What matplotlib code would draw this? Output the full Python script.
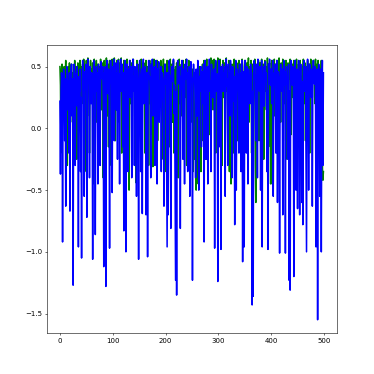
import matplotlib
matplotlib.use("Agg")
import matplotlib.pyplot as plt

blue_vals = [
    0.22, -0.37, 0.30, 0.45, 0.38, -0.92, 0.35, 0.48, 0.42, -0.10,
    0.40, -0.63, 0.28, 0.50, 0.44, 0.15, 0.38, -0.20, 0.45, -0.67,
    0.30, 0.47, 0.52, 0.10, 0.40, -1.27, 0.35, 0.52, 0.46, -0.30,
    0.44, 0.36, 0.50, 0.18, 0.42, -0.96, 0.40, 0.30, 0.48, -0.35,
    0.25, -1.05, 0.38, 0.55, 0.47, 0.30, -0.55, 0.46, 0.35, 0.52,
    0.28, -0.72, 0.40, 0.56, 0.45, 0.35, -0.40, 0.50, 0.42, 0.20,
    0.45, 0.36, -1.06, 0.38, 0.55, 0.50, 0.25, -0.86, 0.42, 0.50,
    0.30, 0.45, -0.45, 0.52, 0.40, 0.48, -0.30, 0.34, 0.54, 0.44,
    0.40, 0.50, 0.22, -1.12, 0.45, 0.38, 0.50, -1.28, 0.36, 0.55,
    0.42, 0.28, 0.48, 0.35, -0.97, 0.42, 0.55, 0.46, 0.35, -0.52,
    0.50, 0.40, 0.56, -0.10, 0.40, 0.47, 0.53, 0.15, 0.45, -0.25,
    0.55, 0.38, 0.44, -0.45, 0.48, 0.56, 0.30, 0.38, 0.52, -0.15,
    0.45, -0.83, 0.30, 0.55, 0.40, -1.00, 0.40, 0.52, 0.45, -0.35,
    0.48, 0.36, 0.55, 0.25, 0.35, 0.50, -0.40, 0.42, 0.56, 0.30,
    0.42, -0.30, 0.50, 0.38, 0.44, -0.55, 0.52, 0.40, 0.30, -1.06,
    0.45, 0.55, 0.34, -0.35, 0.40, 0.48, -0.69, 0.48, 0.56, 0.20,
    0.35, 0.44, 0.50, -0.70, 0.30, 0.45, -1.04, 0.38, 0.55, 0.40,
    0.42, 0.28, -0.40, 0.52, 0.36, 0.56, 0.10, 0.40, 0.48, 0.50,
    -0.30, 0.35, 0.55, 0.42, -0.45, 0.48, 0.38, 0.54, 0.05, 0.38,
    0.30, 0.50, -0.35, 0.34, 0.45, 0.40, 0.20, -0.63, 0.40, 0.52,
    0.36, 0.45, -0.30, -0.96, 0.45, -0.70, 0.30, 0.55, 0.44, 0.42,
    -0.81, 0.25, 0.50, 0.38, 0.40, 0.56, 0.12, 0.35, -0.50, -1.23,
    0.30, -1.35, 0.45, 0.55, 0.36, 0.38, 0.48, 0.50, -0.81, 0.42,
    0.32, 0.55, 0.40, -0.25, 0.48, 0.44, -0.45, 0.52, 0.40, 0.46,
    0.56, 0.25, -0.35, 0.45, 0.38, 0.50, -0.55, 0.35, 0.54, 0.42,
    0.40, -1.23, 0.30, 0.52, 0.44, 0.45, 0.20, -0.40, 0.48, 0.36,
    0.10, 0.55, 0.40, -0.50, 0.42, 0.30, 0.48, 0.50, -0.15, 0.38,
    0.46, 0.20, 0.52, -0.92, 0.40, 0.55, 0.35, -0.25, 0.45, 0.50,
    -0.45, 0.50, 0.38, 0.56, 0.30, 0.38, -0.35, 0.52, 0.44, 0.45,
    0.25, 0.40, 0.48, -0.97, 0.48, 0.55, 0.30, 0.35, 0.44, -1.24,
    0.42, 0.55, 0.36, -0.15, 0.50, -0.98, 0.38, 0.45, 0.52, 0.30,
    0.45, 0.40, 0.50, -0.55, 0.48, 0.56, 0.34, 0.40, -0.30, 0.52,
    0.40, 0.45, 0.10, 0.55, 0.44, 0.38, -0.40, 0.50, 0.46, 0.22,
    0.42, -0.78, 0.35, 0.55, -0.50, 0.25, 0.48, 0.40, 0.44, -0.20,
    0.52, 0.36, 0.45, -0.35, 0.30, 0.55, -1.08, 0.38, 0.46, -0.96,
    0.45, 0.55, 0.40, -0.20, 0.50, 0.44, -0.45, 0.48, 0.38, 0.40,
    0.20, 0.52, 0.46, 0.45, -1.43, 0.30, -1.36, 0.50, 0.55, 0.42,
    0.40, -0.10, 0.52, 0.44, -0.40, 0.56, 0.38, 0.45, 0.30, 0.50,
    -0.50, 0.30, 0.55, -0.96, 0.42, 0.40, 0.50, 0.18, 0.38, 0.54,
    0.44, 0.45, -0.35, 0.30, -0.98, 0.52, 0.40, 0.56, 0.36, 0.35,
    0.48, 0.20, 0.44, 0.55, -0.55, 0.30, 0.45, 0.40, 0.52, -0.20,
    0.38, 0.55, -0.60, 0.46, 0.45, 0.30, -1.01, 0.40, 0.52, 0.44,
    0.30, 0.48, -0.70, 0.40, 0.55, 0.35, 0.46, -1.01, 0.42, 0.50,
    0.36, 0.38, -0.25, 0.52, -1.23, 0.30, -1.31, 0.45, 0.55, 0.48,
    0.35, 0.50, 0.40, -1.20, 0.42, 0.55, 0.38, -0.50, 0.48, 0.44,
    -0.65, 0.45, 0.55, 0.40, -0.70, 0.40, 0.52, 0.36, -0.60, 0.38,
    -0.78, 0.45, 0.55, 0.44, 0.30, 0.50, -0.20, -1.00, 0.42, 0.56,
    0.38, -0.50, 0.40, 0.52, 0.46, 0.25, 0.48, 0.40, -0.63, 0.45,
    0.55, 0.42, 0.36, 0.50, 0.30, -0.96, 0.42, 0.48, -1.55, 0.35,
    0.52, 0.46, -0.55, 0.40, 0.48, -1.00, 0.30, 0.55, -0.30, 0.45,
]

green_vals = [
    0.50, 0.35, -0.20, 0.48, 0.52, 0.10, 0.45, 0.30, 0.50, -0.05,
    0.42, 0.55, 0.20, 0.47, -0.30, 0.38, 0.50, 0.25, 0.53, 0.40,
    0.05, 0.48, 0.52, 0.30, 0.45, -0.15, 0.50, 0.36, 0.55, 0.20,
    0.44, 0.50, -0.25, 0.40, 0.53, 0.15, 0.47, 0.30, 0.55, 0.45,
    -0.10, 0.50, 0.35, 0.52, 0.20, 0.56, 0.40, -0.35, 0.48, 0.30,
    0.55, 0.45, 0.10, 0.57, 0.38, 0.50, -0.20, 0.42, 0.55, 0.25,
    0.48, 0.35, 0.53, -0.45, 0.40, 0.56, 0.20, 0.50, 0.30, 0.55,
    0.05, 0.45, 0.52, 0.38, -0.25, 0.50, 0.30, 0.56, 0.42, 0.15,
    0.53, 0.40, -0.40, 0.48, 0.55, 0.25, 0.50, 0.35, 0.57, 0.10,
    0.45, 0.52, -0.15, 0.40, 0.55, 0.30, 0.50, -0.30, 0.47, 0.56,
    0.35, 0.52, 0.20, 0.57, 0.45, -0.10, 0.50, 0.38, 0.55, 0.25,
    0.48, 0.56, 0.05, 0.42, 0.53, 0.30, 0.57, -0.20, 0.45, 0.50,
    0.35, 0.55, 0.15, 0.48, 0.52, 0.40, -0.05, 0.56, 0.30, 0.45,
    0.50, -0.50, 0.38, 0.55, 0.20, 0.47, 0.53, 0.10, 0.45, 0.56,
    0.30, 0.50, -0.25, 0.42, -0.44, 0.35, 0.55, 0.20, 0.48, 0.40,
    0.52, 0.05, 0.45, 0.30, 0.56, -0.15, 0.40, 0.50, 0.25, 0.53,
    0.35, -0.20, 0.48, 0.55, 0.10, 0.42, 0.50, 0.30, -0.30, 0.45,
    0.55, 0.20, 0.40, 0.52, -0.05, 0.35, -0.31, 0.48, 0.56, 0.25,
    0.45, 0.50, 0.15, 0.38, 0.55, -0.10, 0.42, 0.53, 0.30, 0.47,
    0.20, 0.55, 0.35, -0.25, 0.50, 0.40, 0.56, 0.10, 0.45, 0.52,
    0.30, -0.35, 0.48, 0.55, 0.20, 0.42, 0.50, -0.15, 0.38, 0.56,
    0.25, 0.45, 0.52, 0.05, 0.40, 0.55, -0.20, 0.47, 0.35, 0.50,
    0.15, 0.53, 0.42, 0.30, -0.40, 0.48, 0.56, 0.20, 0.45, 0.38,
    0.52, 0.10, 0.40, 0.55, -0.10, 0.35, 0.50, 0.25, 0.47, 0.56,
    -0.30, 0.42, 0.50, 0.30, 0.55, 0.15, -0.20, 0.45, 0.52, 0.35,
    0.05, 0.48, -0.35, 0.40, 0.20, -0.25, 0.10, -0.40, -0.50, 0.30,
    -0.30, 0.25, -0.45, 0.40, -0.20, 0.50, 0.15, -0.35, 0.45, 0.30,
    0.52, -0.10, 0.40, 0.55, 0.20, 0.48, -0.25, 0.35, 0.56, 0.10,
    0.45, 0.50, 0.30, -0.05, 0.53, 0.40, 0.57, 0.25, 0.48, 0.55,
    0.15, 0.42, 0.56, 0.35, 0.50, -0.20, 0.45, 0.53, 0.30, 0.57,
    0.40, 0.20, 0.52, 0.56, 0.05, 0.45, 0.50, -0.30, 0.38, 0.55,
    0.25, 0.48, 0.53, -0.15, 0.42, 0.57, 0.30, 0.50, 0.10, 0.45,
    0.55, -0.35, 0.40, 0.20, -0.45, 0.48, 0.52, 0.30, -0.20, 0.45,
    0.56, 0.15, 0.40, 0.50, 0.25, 0.53, -0.10, 0.45, 0.35, 0.55,
    0.20, 0.48, 0.52, -0.25, 0.40, 0.56, 0.30, 0.45, 0.10, 0.50,
    0.55, 0.35, -0.15, 0.48, 0.53, 0.25, 0.42, 0.57, 0.05, 0.45,
    0.50, 0.30, 0.55, -0.20, 0.40, 0.52, 0.15, 0.47, 0.35, 0.56,
    -0.30, -0.60, 0.20, 0.45, 0.50, 0.30, 0.55, -0.10, 0.42, 0.53,
    0.25, 0.48, 0.56, 0.10, 0.40, 0.52, -0.25, 0.45, 0.55, 0.30,
    0.50, 0.15, 0.42, 0.57, 0.35, -0.15, 0.48, 0.53, 0.20, -0.45,
    0.40, 0.55, -0.45, 0.30, 0.50, 0.45, 0.56, 0.10, 0.42, 0.52,
    0.25, 0.55, -0.20, 0.48, 0.40, 0.57, 0.30, 0.45, 0.05, 0.53,
    0.50, 0.35, 0.56, -0.10, 0.42, 0.52, 0.20, 0.48, 0.55, 0.30,
    -0.25, 0.45, 0.53, 0.15, 0.50, 0.40, 0.56, 0.35, -0.05, 0.48,
    0.52, 0.25, 0.45, 0.55, -0.30, 0.40, 0.50, 0.20, 0.56, 0.35,
    0.45, -0.15, 0.52, 0.30, 0.48, 0.55, 0.10, 0.42, -0.25, 0.50,
    0.35, 0.56, 0.20, 0.45, 0.53, -0.10, 0.40, 0.50, 0.30, 0.55,
    0.15, 0.48, 0.52, -0.20, 0.42, 0.56, 0.35, 0.50, 0.25, 0.45,
    0.55, 0.40, 0.50, 0.20, 0.56, -0.30, 0.45, 0.52, 0.10, 0.55,
    0.35, 0.50, -0.35, 0.45, 0.25, 0.55, -0.40, -0.30, -0.42, -0.35,
]

x_vals = list(range(len(blue_vals)))

fig, ax = plt.subplots(figsize=(7.48, 7.48), dpi=50)
ax.plot(x_vals, green_vals, color="green", linewidth=2.2)
ax.plot(x_vals, blue_vals, color="blue", linewidth=2.2)
ax.set_xticks([0, 100, 200, 300, 400, 500])
ax.set_yticks([0.5, 0.0, -0.5, -1.0, -1.5])
fig.savefig("out.png", dpi=50)
